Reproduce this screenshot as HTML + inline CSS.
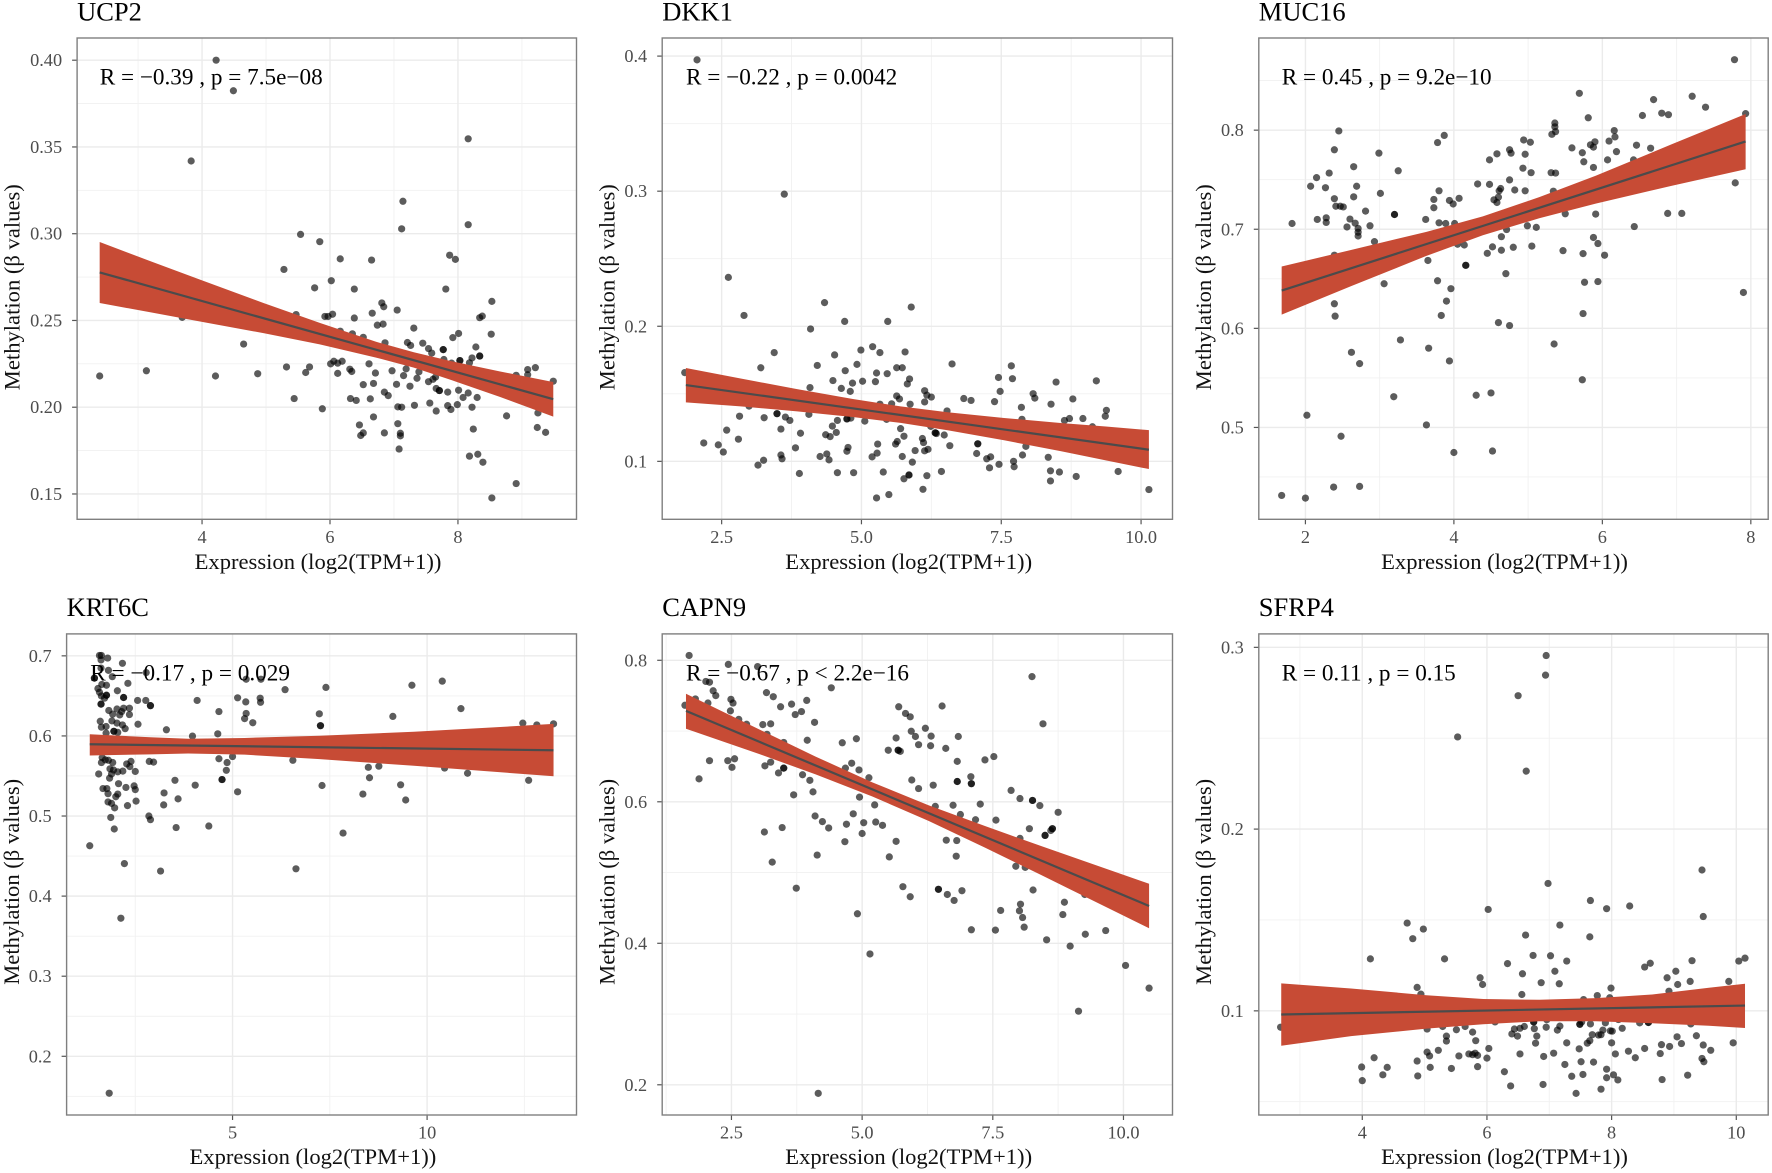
<!DOCTYPE html>
<html lang="en">
<head>
<meta charset="utf-8">
<title>Methylation vs Expression Scatter Panels</title>
<style>
html,body{margin:0;padding:0;background:#fff;}
svg{display:block;}
text{font-family:"Liberation Serif","Noto Serif CJK SC",serif;}
.title{font-size:26.5px;fill:#000;}
.anno{font-size:23.2px;fill:#000;}
.axis-title{font-size:22.6px;fill:#111;text-anchor:middle;}
.tick-label{font-size:18.3px;fill:#4d4d4d;}
</style>
</head>
<body>
<svg id="figure" xmlns="http://www.w3.org/2000/svg" width="1772" height="1173" viewBox="0 0 1772 1173">
<rect x="0" y="0" width="1772" height="1173" fill="#fff"/>

<g>
<g id="marks-ucp2"></g>
<rect x="77.1" y="38" width="499.4" height="481.3" fill="none" stroke="#7f7f7f" stroke-width="1.4"/>
<text class="title" x="77.1" y="20.7">UCP2</text>
<text class="anno" x="99.7" y="84.5">R = −0.39 , p = 7.5e−08</text>
<text class="axis-title" x="318" y="569">Expression (log2(TPM+1))</text>
<text class="axis-title" x="19.6" y="287.2" transform="rotate(-90 19.6 287.2)">Methylation (β values)</text>
</g>

<g>
<g id="marks-dkk1"></g>
<rect x="662.2" y="38" width="510.3" height="481.3" fill="none" stroke="#7f7f7f" stroke-width="1.4"/>
<text class="title" x="662.2" y="20.7">DKK1</text>
<text class="anno" x="686" y="84.5">R = −0.22 , p = 0.0042</text>
<text class="axis-title" x="908.7" y="569">Expression (log2(TPM+1))</text>
<text class="axis-title" x="614.5" y="287.2" transform="rotate(-90 614.5 287.2)">Methylation (β values)</text>
</g>

<g>
<g id="marks-muc16"></g>
<rect x="1258.8" y="38" width="509.4" height="481.3" fill="none" stroke="#7f7f7f" stroke-width="1.4"/>
<text class="title" x="1258.8" y="20.7">MUC16</text>
<text class="anno" x="1281.7" y="84.5">R = 0.45 , p = 9.2e−10</text>
<text class="axis-title" x="1504.5" y="569">Expression (log2(TPM+1))</text>
<text class="axis-title" x="1211" y="287.2" transform="rotate(-90 1211 287.2)">Methylation (β values)</text>
</g>

<g>
<g id="marks-krt6c"></g>
<rect x="66.6" y="633.9" width="509.9" height="481.1" fill="none" stroke="#7f7f7f" stroke-width="1.4"/>
<text class="title" x="66.6" y="616">KRT6C</text>
<text class="anno" x="90.3" y="680.3">R = −0.17 , p = 0.029</text>
<text class="axis-title" x="312.9" y="1164">Expression (log2(TPM+1))</text>
<text class="axis-title" x="18.8" y="881.8" transform="rotate(-90 18.8 881.8)">Methylation (β values)</text>
</g>

<g>
<g id="marks-capn9"></g>
<rect x="662.2" y="633.9" width="510.3" height="481.1" fill="none" stroke="#7f7f7f" stroke-width="1.4"/>
<text class="title" x="662.2" y="616">CAPN9</text>
<text class="anno" x="686" y="680.3">R = −0.67 , p &lt; 2.2e−16</text>
<text class="axis-title" x="908.7" y="1164">Expression (log2(TPM+1))</text>
<text class="axis-title" x="614.5" y="881.8" transform="rotate(-90 614.5 881.8)">Methylation (β values)</text>
</g>

<g>
<g id="marks-sfrp4"></g>
<rect x="1258.8" y="633.9" width="509.4" height="481.1" fill="none" stroke="#7f7f7f" stroke-width="1.4"/>
<text class="title" x="1258.8" y="616">SFRP4</text>
<text class="anno" x="1281.7" y="680.3">R = 0.11 , p = 0.15</text>
<text class="axis-title" x="1504.5" y="1164">Expression (log2(TPM+1))</text>
<text class="axis-title" x="1211" y="881.8" transform="rotate(-90 1211 881.8)">Methylation (β values)</text>
</g>
</svg>

<script>
/* ---------- UCP2 ---------- */
const ucp2XTicks = ['4','6','8'];
const ucp2YTicks = ['0.15','0.20','0.25','0.30','0.35','0.40'];
const ucp2X = [
4.22,4.49,3.83,8.16,7.14,7.12,8.16,5.54,5.84,6.16,
6.65,7.87,7.96,5.28,6.02,5.76,6.38,7.81,6.81,6.84,
7.05,8.53,6.66,5.92,5.97,6.04,6.38,5.47,8.34,8.38,
3.69,6.74,6.83,7.31,6.16,6.35,6.52,8.01,7.92,8.52,
4.65,6.86,7.21,7.26,7.45,7.54,7.59,7.77,7.77,8.28,
8.34,8.34,8.22,8.18,8.03,8.03,7.78,7.90,5.32,5.68,
6.01,6.06,6.12,6.19,6.61,6.31,6.34,5.62,6.12,6.71,
6.97,7.19,7.39,7.15,7.36,7.65,7.54,7.61,2.40,3.13,
4.21,4.87,8.91,9.09,9.09,9.21,9.49,6.52,6.68,7.04,
7.25,7.66,7.71,7.71,6.85,6.91,7.84,8.01,8.16,8.08,
8.30,5.44,6.32,6.41,6.63,7.56,7.32,7.84,7.99,7.06,
7.12,8.22,5.88,7.66,7.89,9.25,8.76,6.68,6.46,7.06,
9.24,8.24,9.37,6.85,6.52,6.48,7.10,7.10,7.08,8.18,
8.31,8.39,8.91,8.53];
const ucp2Y = [
.4000,.3824,.3419,.3547,.3187,.3028,.3052,.2996,.2954,.2855,
.2848,.2876,.2852,.2794,.2729,.2688,.2681,.2681,.2601,.2579,
.2560,.2610,.2542,.2523,.2523,.2536,.2514,.2534,.2516,.2525,
.2518,.2473,.2479,.2456,.2438,.2423,.2403,.2425,.2401,.2421,
.2364,.2371,.2373,.2356,.2369,.2338,.2312,.2332,.2332,.2347,
.2295,.2295,.2284,.2256,.2269,.2269,.2275,.2254,.2232,.2232,
.2250,.2265,.2254,.2265,.2250,.2219,.2206,.2200,.2195,.2197,
.2210,.2221,.2204,.2182,.2167,.2174,.2147,.2161,.2180,.2210,
.2180,.2193,.2184,.2217,.2187,.2228,.2150,.2130,.2137,.2132,
.2121,.2108,.2096,.2096,.2087,.2067,.2087,.2098,.2082,.2056,
.2056,.2050,.2050,.2039,.2048,.2024,.2011,.2009,.2015,.2002,
.2000,.2000,.1991,.1978,.1987,.1967,.1950,.1944,.1898,.1905,
.1883,.1874,.1855,.1852,.1852,.1837,.1850,.1835,.1759,.1718,
.1729,.1683,.1560,.1477];
const ucp2BandX = [2.40,3.19,4.00,4.96,5.84,6.72,7.31,7.90,8.66,9.49];
const ucp2BandHi = [.2952,.2842,.2731,.2601,.2486,.2377,.2317,.2265,.2206,.2145];
const ucp2BandLo = [.2601,.2547,.2492,.2427,.2362,.2286,.2228,.2156,.2059,.1946];
const ucp2LineX = [2.40,9.49];
const ucp2LineY = [.2777,.2046];

/* ---------- DKK1 ---------- */
const dkk1XTicks = ['2.5','5.0','7.5','10.0'];
const dkk1YTicks = ['0.1','0.2','0.3','0.4'];
const dkk1X = [
2.06,3.62,2.62,2.90,4.34,4.70,5.47,5.89,4.09,3.44,
4.52,4.99,5.20,5.33,5.78,4.21,3.20,4.92,4.71,5.27,
5.46,5.63,5.73,6.62,7.68,7.45,7.70,1.84,4.49,5.02,
5.25,4.84,5.86,5.82,8.48,9.20,4.08,4.64,4.80,6.13,
7.48,8.07,5.63,5.68,6.17,6.25,6.83,6.96,8.10,8.78,
6.13,7.38,8.39,4.75,5.33,5.54,5.87,2.99,7.86,6.53,
9.38,4.06,3.49,3.49,2.82,3.26,3.64,3.72,4.57,4.74,
4.74,4.81,5.06,5.45,7.87,8.63,8.72,8.96,9.36,4.48,
5.70,3.56,2.59,6.24,9.13,3.91,4.55,6.32,6.32,6.34,
4.36,4.44,5.76,6.48,2.80,6.09,2.18,5.64,6.11,7.08,
7.08,2.44,5.29,5.61,6.58,7.94,3.82,4.76,2.53,4.74,
5.96,6.13,6.19,5.28,4.38,7.06,3.56,7.88,4.26,5.19,
5.73,7.31,8.34,3.58,4.42,3.25,7.24,5.91,7.72,3.15,
7.46,7.73,7.29,8.38,3.89,4.57,4.86,5.39,6.43,8.54,
9.59,5.85,5.85,6.17,5.76,8.84,8.38,6.10,10.14,5.49,
5.27];
const dkk1Y = [
.3972,.2978,.2362,.2080,.2175,.2036,.2036,.2142,.1980,.1805,
.1788,.1824,.1849,.1805,.1810,.1710,.1693,.1718,.1671,.1654,
.1649,.1693,.1693,.1721,.1707,.1621,.1612,.1657,.1598,.1593,
.1590,.1579,.1610,.1573,.1587,.1596,.1546,.1540,.1518,.1523,
.1518,.1501,.1484,.1462,.1490,.1476,.1465,.1451,.1468,.1462,
.1440,.1442,.1423,.1440,.1423,.1426,.1423,.1409,.1400,.1373,
.1378,.1348,.1353,.1353,.1334,.1323,.1328,.1303,.1303,.1314,
.1314,.1320,.1298,.1311,.1311,.1303,.1317,.1317,.1334,.1261,
.1242,.1239,.1231,.1259,.1256,.1208,.1214,.1211,.1211,.1206,
.1197,.1183,.1186,.1195,.1164,.1169,.1136,.1147,.1139,.1130,
.1130,.1122,.1128,.1128,.1116,.1111,.1100,.1103,.1069,.1075,
.1080,.1078,.1089,.1061,.1055,.1058,.1047,.1047,.1036,.1033,
.1036,.1033,.1030,.1019,.1011,.1008,.1019,.0994,.1000,.0972,
.0978,.0960,.0952,.0930,.0910,.0916,.0916,.0921,.0925,.0921,
.0925,.0899,.0899,.0894,.0871,.0888,.0855,.0793,.0791,.0754,
.0729];
const dkk1BandX = [1.86,2.84,3.85,4.86,5.70,6.54,7.55,8.56,9.37,10.14];
const dkk1BandHi = [.1691,.1613,.1535,.1461,.1407,.1363,.1321,.1284,.1258,.1231];
const dkk1BandLo = [.1437,.1407,.1370,.1327,.1285,.1230,.1156,.1076,.1007,.0943];
const dkk1LineX = [1.86,10.14];
const dkk1LineY = [.1565,.1086];

/* ---------- MUC16 ---------- */
const muc16XTicks = ['2','4','6','8'];
const muc16YTicks = ['0.5','0.6','0.7','0.8'];
const muc16X = [
7.78,5.69,6.69,7.21,7.39,7.93,6.80,6.89,6.54,5.81,
5.36,5.36,5.32,5.37,6.16,6.17,6.09,2.45,3.87,3.78,
2.39,2.99,4.94,5.03,4.75,4.77,4.58,4.96,5.59,5.84,
5.90,5.88,5.73,6.19,6.46,6.65,6.07,6.42,4.48,5.75,
5.88,2.65,3.25,2.32,2.15,4.93,5.04,5.31,5.37,4.32,
4.48,4.75,2.07,2.69,2.27,4.63,3.01,3.80,4.82,4.96,
5.34,4.61,7.79,2.39,2.65,3.73,3.94,4.07,4.54,4.60,
4.58,3.99,2.41,2.47,2.51,3.73,2.81,3.20,3.20,6.88,
7.07,5.50,5.91,2.16,2.28,2.28,2.60,3.62,1.82,2.67,
3.80,3.89,4.01,2.87,2.56,4.99,6.43,5.11,2.71,2.71,
2.71,4.71,4.64,5.88,5.94,2.93,4.05,4.14,4.52,4.80,
5.05,4.64,5.47,4.45,5.74,6.03,2.39,3.65,4.16,4.16,
4.70,3.78,5.76,5.94,3.06,3.96,7.90,3.90,2.39,2.40,
3.83,5.74,4.60,4.75,3.28,5.35,3.66,2.62,2.73,3.94,
5.73,3.19,4.30,4.50,2.02,3.63,2.48,4.00,4.52,1.68,
2.00,2.38,2.73];
const muc16Y = [
.8711,.8372,.8308,.8342,.8232,.8167,.8171,.8156,.8148,.8125,
.8072,.8034,.7958,.7985,.7996,.7932,.7890,.7992,.7947,.7875,
.7802,.7768,.7901,.7878,.7802,.7768,.7761,.7757,.7821,.7852,
.7882,.7829,.7772,.7783,.7848,.7818,.7700,.7700,.7700,.7681,
.7624,.7631,.7590,.7567,.7521,.7616,.7571,.7571,.7567,.7457,
.7453,.7498,.7434,.7434,.7419,.7411,.7362,.7388,.7396,.7388,
.7384,.7388,.7468,.7308,.7327,.7301,.7291,.7312,.7297,.7324,
.7270,.7255,.7232,.7232,.7225,.7217,.7183,.7149,.7149,.7160,
.7160,.7156,.7153,.7099,.7115,.7069,.7103,.7099,.7058,.7061,
.7065,.7058,.7058,.7035,.7023,.7035,.7027,.7019,.7008,.6970,
.6932,.6997,.6925,.6917,.6856,.6875,.6849,.6841,.6822,.6818,
.6830,.6788,.6784,.6757,.6754,.6738,.6738,.6685,.6636,.6636,
.6552,.6480,.6465,.6472,.6450,.6400,.6362,.6275,.6248,.6123,
.6130,.6149,.6058,.6028,.5883,.5842,.5800,.5758,.5644,.5671,
.5481,.5310,.5325,.5348,.5123,.5025,.4911,.4747,.4762,.4314,
.4287,.4398,.4405];
const muc16BandX = [1.68,2.62,3.63,4.39,5.15,5.91,6.93,7.93];
const muc16BandHi = [.6624,.6792,.6974,.7130,.7324,.7540,.7856,.8163];
const muc16BandLo = [.6138,.6427,.6731,.6940,.7111,.7259,.7438,.7605];
const muc16LineX = [1.68,7.93];
const muc16LineY = [.6381,.7886];

/* ---------- KRT6C ---------- */
const krt6cXTicks = ['5','10'];
const krt6cYTicks = ['0.2','0.3','0.4','0.5','0.6','0.7'];
const krt6cX = [
1.58,1.63,1.79,1.62,2.17,1.81,1.62,1.45,1.45,1.91,
1.54,2.78,2.31,1.64,1.76,2.04,1.58,1.63,1.76,1.76,
1.71,2.20,2.20,2.56,2.77,1.62,1.62,2.89,2.89,1.82,
2.03,2.20,2.35,1.92,2.10,2.15,2.35,1.60,1.90,2.03,
2.17,2.57,1.63,1.75,2.24,1.75,1.95,1.95,2.05,3.30,
3.97,4.62,1.81,1.65,1.73,1.63,1.92,2.39,2.86,2.97,
2.28,2.36,1.85,1.94,2.05,2.18,2.50,1.56,1.89,1.84,
2.07,1.67,1.77,2.26,2.47,2.50,1.80,2.05,2.00,1.80,
1.89,1.97,2.30,2.52,1.87,1.96,2.85,2.89,1.33,2.22,
3.15,2.13,1.83,3.24,3.23,3.52,3.60,3.55,4.04,4.09,
4.39,4.65,4.65,4.73,4.73,4.84,4.86,5.00,5.13,5.13,
5.35,5.73,5.34,5.71,5.72,5.35,5.31,5.52,6.35,7.40,
7.23,7.26,7.26,6.55,7.30,7.84,6.63,8.35,8.49,8.52,
8.76,9.12,9.32,9.45,9.61,10.39,10.87,10.45,11.04,12.46,
12.82,12.61,13.25];
const krt6cY = [
.7005,.7005,.6972,.6949,.6907,.6819,.6847,.6722,.6722,.6740,
.6592,.6791,.6657,.6643,.6633,.6564,.6545,.6499,.6508,.6508,
.6471,.6480,.6480,.6443,.6443,.6397,.6397,.6378,.6378,.6318,
.6336,.6346,.6346,.6272,.6262,.6304,.6267,.6183,.6188,.6160,
.6137,.6146,.6109,.6118,.6091,.6035,.6058,.6058,.6044,.6077,
.5998,.6026,.5696,.5729,.5701,.5668,.5668,.5682,.5682,.5673,
.5650,.5617,.5589,.5575,.5552,.5561,.5557,.5525,.5525,.5473,
.5404,.5343,.5343,.5357,.5376,.5330,.5279,.5274,.5241,.5176,
.5158,.5102,.5130,.5186,.4982,.4838,.5000,.4954,.4629,.4406,
.4313,.3724,.1539,.5288,.5139,.5446,.5214,.4856,.5385,.6443,
.4875,.6304,.5715,.5455,.5455,.5571,.5668,.5743,.5302,.6476,
.6708,.6708,.6425,.6471,.6420,.6281,.6216,.6165,.6578,.6606,
.6276,.6128,.6128,.5696,.5381,.4787,.4341,.5274,.5608,.5478,
.5622,.6244,.5390,.5200,.6633,.6684,.6341,.5599,.5534,.6160,
.6137,.5446,.6151];
const krt6cBandX = [1.33,2.89,3.86,5.31,7.24,9.66,11.59,13.25];
const krt6cBandHi = [.6021,.5984,.5965,.5975,.6002,.6053,.6104,.6151];
const krt6cBandLo = [.5756,.5770,.5780,.5766,.5710,.5627,.5557,.5497];
const krt6cLineX = [1.33,13.25];
const krt6cLineY = [.5896,.5821];

/* ---------- CAPN9 ---------- */
const capn9XTicks = ['2.5','5.0','7.5','10.0'];
const capn9YTicks = ['0.2','0.4','0.6','0.8'];
const capn9X = [
1.69,2.44,3.00,2.01,2.08,8.25,4.41,2.15,2.20,1.81,
3.17,3.30,2.49,2.53,2.05,3.94,1.61,3.65,3.44,2.48,
3.84,3.72,5.70,6.53,5.83,5.92,2.64,4.09,2.79,3.10,
3.25,8.46,6.21,5.94,6.02,6.32,6.84,3.18,4.89,5.65,
3.95,4.62,6.08,6.31,3.50,6.60,5.50,5.69,5.69,5.73,
7.52,7.35,2.08,2.43,2.56,6.82,4.80,3.25,3.14,2.51,
3.50,3.50,4.68,4.94,3.40,1.88,3.86,4.00,5.13,5.95,
6.82,6.82,7.08,7.09,7.09,6.36,6.08,7.85,4.06,3.69,
4.95,8.02,8.26,8.26,5.24,6.40,6.74,7.26,8.40,8.75,
4.83,4.10,6.88,7.17,7.56,4.24,5.26,5.03,4.70,5.39,
3.47,4.36,8.20,8.64,8.64,8.61,3.13,8.50,8.50,5.00,
8.02,6.61,6.81,5.65,4.67,4.14,5.52,6.80,3.28,7.94,
8.12,3.74,5.78,6.46,6.46,6.91,8.27,5.92,6.63,6.76,
9.26,8.87,8.03,8.01,7.65,4.91,8.84,8.07,8.10,7.09,
7.55,9.66,9.27,8.53,8.98,5.15,10.04,10.49,9.14,4.16];
const capn9Y = [
.8068,.7942,.7911,.7701,.7690,.7769,.7611,.7569,.7501,.7454,
.7543,.7485,.7448,.7396,.7396,.7433,.7364,.7380,.7343,.7285,
.7275,.7233,.7343,.7354,.7249,.7201,.7165,.7123,.7096,.7091,
.7102,.7102,.7039,.6997,.6923,.6928,.6923,.6954,.6891,.6902,
.6870,.6834,.6807,.6792,.6839,.6755,.6729,.6729,.6729,.6713,
.6639,.6592,.6581,.6581,.6608,.6571,.6545,.6560,.6508,.6487,
.6476,.6476,.6476,.6450,.6408,.6324,.6382,.6303,.6340,.6308,
.6287,.6287,.6355,.6256,.6256,.6235,.6187,.6161,.6140,.6098,
.6066,.6046,.6019,.6019,.5956,.5935,.5951,.5967,.5946,.5851,
.5830,.5799,.5820,.5746,.5741,.5720,.5714,.5704,.5683,.5667,
.5636,.5630,.5620,.5620,.5620,.5594,.5573,.5525,.5525,.5552,
.5483,.5457,.5452,.5441,.5436,.5247,.5221,.5231,.5147,.5089,
.5073,.4779,.4800,.4763,.4763,.4743,.4753,.4658,.4690,.4606,
.4690,.4580,.4553,.4459,.4464,.4417,.4406,.4364,.4228,.4191,
.4186,.4180,.4128,.4049,.3960,.3849,.3687,.3366,.3040,.1879];
const capn9BandX = [1.63,3.03,4.11,5.19,6.27,7.35,8.43,9.51,10.49];
const capn9BandHi = [.7527,.7023,.6639,.6277,.5951,.5657,.5373,.5095,.4842];
const capn9BandLo = [.7033,.6676,.6387,.6077,.5730,.5352,.4963,.4569,.4212];
const capn9LineX = [1.63,10.49];
const capn9LineY = [.7285,.4527];

/* ---------- SFRP4 ---------- */
const sfrp4XTicks = ['4','6','8','10'];
const sfrp4YTicks = ['0.1','0.2','0.3'];
const sfrp4X = [
6.95,6.94,6.50,5.53,6.63,9.45,6.98,7.66,6.02,7.92,
8.29,9.47,4.72,4.98,7.17,4.81,6.62,7.65,4.13,5.32,
6.74,7.02,7.28,6.33,8.62,8.53,9.29,10.04,10.14,7.09,
9.03,6.57,5.89,8.89,6.87,7.16,5.93,9.26,9.06,9.88,
4.88,7.99,8.92,4.94,6.56,7.77,7.97,7.55,2.69,6.13,
5.29,5.04,5.65,5.51,5.77,6.75,6.75,6.60,6.53,6.44,
6.76,6.95,6.96,7.17,7.13,7.49,7.49,7.52,7.66,7.90,
8.11,8.45,8.59,8.59,9.27,8.17,7.86,7.98,8.01,6.40,
6.49,6.80,7.69,7.79,7.83,5.35,5.35,5.82,7.65,7.61,
6.78,7.28,8.00,9.05,9.36,8.80,9.12,9.47,9.95,6.03,
7.48,8.53,8.93,5.04,5.22,8.27,9.59,5.08,5.55,5.71,
5.77,5.81,5.85,6.00,6.53,6.91,7.07,8.06,8.38,8.78,
4.19,4.88,7.51,7.71,9.45,9.48,3.99,4.40,5.09,5.43,
5.85,7.25,7.92,4.33,4.89,6.28,7.36,7.54,8.03,7.92,
9.22,4.00,8.10,8.81,6.38,6.90,7.83,7.43];
const sfrp4Y = [
.2955,.2847,.2734,.2507,.2319,.1775,.1701,.1607,.1558,.1562,
.1577,.1519,.1483,.1450,.1472,.1397,.1417,.1407,.1286,.1286,
.1305,.1303,.1274,.1260,.1262,.1241,.1276,.1274,.1290,.1218,
.1218,.1204,.1182,.1182,.1155,.1149,.1145,.1162,.1145,.1162,
.1129,.1125,.1108,.1092,.1090,.1084,.1072,.1062,.0910,.0939,
.0914,.0900,.0914,.0896,.0883,.0939,.0939,.0914,.0904,.0900,
.0902,.0910,.0951,.0916,.0894,.0926,.0926,.0939,.0928,.0934,
.0952,.0934,.0936,.0936,.0928,.0904,.0894,.0890,.0888,.0873,
.0861,.0861,.0869,.0867,.0869,.0861,.0834,.0836,.0836,.0822,
.0822,.0824,.0824,.0857,.0863,.0814,.0820,.0812,.0824,.0793,
.0791,.0793,.0804,.0773,.0783,.0778,.0783,.0752,.0752,.0763,
.0759,.0767,.0755,.0740,.0763,.0749,.0767,.0763,.0742,.0765,
.0742,.0724,.0720,.0718,.0738,.0720,.0691,.0689,.0689,.0683,
.0693,.0705,.0679,.0648,.0642,.0665,.0640,.0650,.0648,.0632,
.0646,.0616,.0620,.0622,.0587,.0595,.0569,.0546];
const sfrp4BandX = [2.70,3.82,5.03,5.94,6.84,7.75,8.65,9.56,10.14];
const sfrp4BandHi = [.1151,.1123,.1086,.1065,.1061,.1070,.1090,.1127,.1149];
const sfrp4BandLo = [.0808,.0861,.0902,.0926,.0943,.0943,.0932,.0918,.0906];
const sfrp4LineX = [2.70,10.14];
const sfrp4LineY = [.0980,.1029];

const SVG_NS = 'http://www.w3.org/2000/svg';

function make(parent, tag, attrs) {
  const el = document.createElementNS(SVG_NS, tag);
  for (const k in attrs) el.setAttribute(k, attrs[k]);
  parent.appendChild(el);
  return el;
}

function linearScale(d0, d1, r0, r1) {
  return function (v) { return r0 + (v - d0) / (d1 - d0) * (r1 - r0); };
}

function drawPanel(p) {
  const root = document.getElementById('marks-' + p.id);
  const xAt = linearScale(p.xDomain[0], p.xDomain[1], p.left, p.right);
  const yAt = linearScale(p.yDomain[0], p.yDomain[1], p.bottom, p.top);

  const bg = make(root, 'rect', {x: p.left, y: p.top, width: p.right - p.left, height: p.bottom - p.top, fill: '#fff'});
  
  

  const xVals = p.xTicks.map(Number);
  const yVals = p.yTicks.map(Number);
  const xStep = xVals[1] - xVals[0];
  const yStep = yVals[1] - yVals[0];

  /* minor grid */
  for (let v = xVals[0] - xStep * 2.5; v <= p.xDomain[1]; v += xStep) {
    if (v < p.xDomain[0]) continue;
    const g = make(root, 'line', {x1: xAt(v), x2: xAt(v), y1: p.top, y2: p.bottom, stroke: '#f1f1f1', 'stroke-width': 0.9});
    
    
  }
  for (let v = yVals[0] - yStep * 2.5; v <= p.yDomain[1]; v += yStep) {
    if (v < p.yDomain[0]) continue;
    const g = make(root, 'line', {x1: p.left, x2: p.right, y1: yAt(v), y2: yAt(v), stroke: '#f1f1f1', 'stroke-width': 0.9});
    
    
  }

  /* major grid, ticks, labels */
  p.xTicks.forEach(function (label, i) {
    const px = xAt(xVals[i]);
    const g = make(root, 'line', {x1: px, x2: px, y1: p.top, y2: p.bottom, stroke: '#ebebeb', 'stroke-width': 1.4});
    
    
    const t = make(root, 'line', {x1: px, x2: px, y1: p.bottom, y2: p.bottom + 5, stroke: '#555', 'stroke-width': 1.2});
    
    
    const txt = make(root, 'text', {x: px, y: p.bottom + 23.7, 'text-anchor': 'middle', 'class': 'tick-label'});
    
    
    txt.textContent = label;
  });
  p.yTicks.forEach(function (label, i) {
    const py = yAt(yVals[i]);
    const g = make(root, 'line', {x1: p.left, x2: p.right, y1: py, y2: py, stroke: '#ebebeb', 'stroke-width': 1.4});
    
    
    const t = make(root, 'line', {x1: p.left - 5, x2: p.left, y1: py, y2: py, stroke: '#555', 'stroke-width': 1.2});
    
    
    const txt = make(root, 'text', {x: p.left - 15, y: py + 6, 'text-anchor': 'end', 'class': 'tick-label'});
    
    
    txt.textContent = label;
  });

  /* points */
  p.x.forEach(function (xv, i) {
    const c = make(root, 'circle', {cx: xAt(xv), cy: yAt(p.y[i]), r: 3.6, fill: '#000', 'fill-opacity': 0.64});
    
    
  });

  /* confidence band */
  const up = p.bandX.map(function (xv, i) { return xAt(xv).toFixed(2) + ',' + yAt(p.bandHi[i]).toFixed(2); });
  const lo = p.bandX.map(function (xv, i) { return xAt(xv).toFixed(2) + ',' + yAt(p.bandLo[i]).toFixed(2); }).reverse();
  const band = make(root, 'polygon', {points: up.concat(lo).join(' '), fill: '#c74b35'});
  
  

  /* regression line */
  const line = make(root, 'line', {
    x1: xAt(p.lineX[0]), y1: yAt(p.lineY[0]),
    x2: xAt(p.lineX[1]), y2: yAt(p.lineY[1]),
    stroke: '#4b4b4b', 'stroke-width': 2.2
  });
  
  
}

const panels = [
  {id: 'ucp2', left: 77.1, right: 576.5, top: 38, bottom: 519.3, xDomain: [2.047, 9.853], yDomain: [.1354, .4128],
   xTicks: ucp2XTicks, yTicks: ucp2YTicks, x: ucp2X, y: ucp2Y, bandX: ucp2BandX, bandHi: ucp2BandHi, bandLo: ucp2BandLo, lineX: ucp2LineX, lineY: ucp2LineY},
  {id: 'dkk1', left: 662.2, right: 1172.5, top: 38, bottom: 519.3, xDomain: [1.437, 10.562], yDomain: [.0571, .4134],
   xTicks: dkk1XTicks, yTicks: dkk1YTicks, x: dkk1X, y: dkk1Y, bandX: dkk1BandX, bandHi: dkk1BandHi, bandLo: dkk1BandLo, lineX: dkk1LineX, lineY: dkk1LineY},
  {id: 'muc16', left: 1258.8, right: 1768.2, top: 38, bottom: 519.3, xDomain: [1.372, 8.234], yDomain: [.4073, .8930],
   xTicks: muc16XTicks, yTicks: muc16YTicks, x: muc16X, y: muc16Y, bandX: muc16BandX, bandHi: muc16BandHi, bandLo: muc16BandLo, lineX: muc16LineX, lineY: muc16LineY},
  {id: 'krt6c', left: 66.6, right: 576.5, top: 633.9, bottom: 1115, xDomain: [.735, 13.84], yDomain: [.1267, .7274],
   xTicks: krt6cXTicks, yTicks: krt6cYTicks, x: krt6cX, y: krt6cY, bandX: krt6cBandX, bandHi: krt6cBandHi, bandLo: krt6cBandLo, lineX: krt6cLineX, lineY: krt6cLineY},
  {id: 'capn9', left: 662.2, right: 1172.5, top: 633.9, bottom: 1115, xDomain: [1.175, 10.938], yDomain: [.1573, .8373],
   xTicks: capn9XTicks, yTicks: capn9YTicks, x: capn9X, y: capn9Y, bandX: capn9BandX, bandHi: capn9BandHi, bandLo: capn9BandLo, lineX: capn9LineX, lineY: capn9LineY},
  {id: 'sfrp4', left: 1258.8, right: 1768.2, top: 633.9, bottom: 1115, xDomain: [2.340, 10.512], yDomain: [.0427, .3074],
   xTicks: sfrp4XTicks, yTicks: sfrp4YTicks, x: sfrp4X, y: sfrp4Y, bandX: sfrp4BandX, bandHi: sfrp4BandHi, bandLo: sfrp4BandLo, lineX: sfrp4LineX, lineY: sfrp4LineY}
];

panels.forEach(drawPanel);
</script>
</body>
</html>
